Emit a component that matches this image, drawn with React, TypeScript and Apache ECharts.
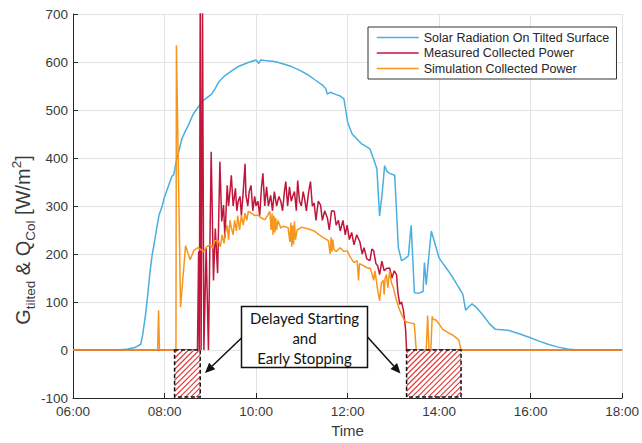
import React, { useEffect, useRef } from 'react';
import * as echarts from 'echarts';

// time in hours (decimal), value in W/m2
const solarRadiation: [number, number][] = [
  [6, 0], [7, 0], [7.2, 2], [7.35, 5], [7.48, 12], [7.52, 30], [7.58, 70], [7.62, 103], [7.68, 160],
  [7.73, 198], [7.78, 225], [7.82, 248], [7.88, 281], [7.95, 300], [7.99, 316], [8.08, 340], [8.16, 362],
  [8.2, 365], [8.25, 390], [8.31, 413], [8.38, 440], [8.45, 455], [8.53, 470], [8.62, 490], [8.75, 508],
  [8.85, 520], [9.03, 533], [9.11, 545], [9.18, 558], [9.3, 570], [9.46, 581], [9.6, 590], [9.83, 599],
  [10.0, 604], [10.06, 597], [10.1, 604], [10.2, 603], [10.41, 601], [10.6, 596], [10.76, 591],
  [10.95, 583], [11.12, 574], [11.3, 562], [11.45, 552], [11.52, 545], [11.56, 533], [11.62, 537],
  [11.75, 532], [11.84, 529], [11.92, 523], [11.96, 500], [12.0, 475], [12.1, 450], [12.3, 430],
  [12.49, 419], [12.58, 395], [12.64, 378], [12.7, 279], [12.76, 330], [12.81, 384], [12.86, 372],
  [12.92, 368], [13.03, 364], [13.07, 290], [13.11, 213], [13.18, 186], [13.25, 190], [13.33, 196],
  [13.37, 240], [13.39, 260], [13.42, 200], [13.46, 120], [13.55, 118], [13.65, 122], [13.68, 182],
  [13.72, 136], [13.76, 180], [13.83, 248], [13.9, 225], [14.0, 192], [14.1, 178], [14.2, 165],
  [14.3, 151], [14.4, 135], [14.52, 116], [14.58, 83], [14.65, 90], [14.72, 96], [14.8, 90],
  [14.95, 74], [15.1, 55], [15.23, 43], [15.51, 41], [15.75, 34], [15.95, 27], [16.2, 18], [16.38, 12],
  [16.6, 6], [16.81, 2], [17.03, 0], [18, 0],
];

const measuredPower: [number, number][] = [
  [6, 0], [8.72, 0], [8.745, 205], [8.76, 0], [8.78, 720], [8.8, 0], [8.83, 720], [8.86, 0], [8.91, 213],
  [8.96, 0], [9.02, 413], [9.07, 145], [9.11, 253], [9.16, 160], [9.21, 392], [9.25, 268], [9.29, 302],
  [9.32, 233], [9.37, 343], [9.4, 300], [9.43, 330], [9.46, 364], [9.5, 300],
  [9.55, 337], [9.58, 290], [9.61, 310], [9.65, 320], [9.68, 280], [9.72, 330], [9.76, 388], [9.78, 322],
  [9.82, 300], [9.85, 330], [9.89, 343], [9.93, 290], [9.97, 320], [10.0, 300], [10.04, 310],
  [10.08, 280], [10.12, 340], [10.15, 368], [10.19, 300], [10.23, 340], [10.27, 300], [10.32, 322],
  [10.36, 290], [10.4, 330], [10.45, 300], [10.5, 320], [10.54, 310], [10.58, 290], [10.62, 330],
  [10.65, 351], [10.69, 300], [10.73, 340], [10.77, 310], [10.8, 320], [10.84, 330], [10.88, 290],
  [10.91, 353], [10.95, 310], [10.99, 300], [11.03, 330], [11.06, 316], [11.1, 290], [11.15, 330],
  [11.19, 351], [11.23, 300], [11.27, 306], [11.31, 270], [11.36, 310], [11.41, 302], [11.45, 270],
  [11.5, 290], [11.56, 275], [11.6, 250], [11.65, 290], [11.71, 289], [11.75, 260], [11.8, 270],
  [11.84, 248], [11.9, 270], [11.95, 240], [11.99, 260], [12.04, 230], [12.09, 245], [12.14, 219],
  [12.2, 240], [12.27, 225], [12.32, 200], [12.36, 213], [12.42, 190], [12.49, 186], [12.53, 210],
  [12.57, 207], [12.62, 180], [12.66, 175], [12.7, 157], [12.75, 185], [12.8, 165], [12.85, 170],
  [12.92, 171], [12.97, 150], [13.02, 165], [13.07, 157], [13.1, 120], [13.14, 95], [13.18, 100],
  [13.22, 83], [13.24, 68], [13.27, 40], [13.29, 0], [18, 0],
];

const simulatedPower: [number, number][] = [
  [6, 0], [7.85, 0], [7.87, 83], [7.89, 0], [8.25, 0], [8.26, 635], [8.35, 89], [8.46, 217],
  [8.56, 188], [8.64, 207], [8.72, 213], [8.78, 210], [8.85, 205], [8.92, 215], [9.0, 220], [9.05, 212],
  [9.1, 228], [9.18, 227], [9.22, 215], [9.26, 240], [9.3, 222], [9.33, 244],
  [9.37, 260], [9.4, 230], [9.43, 270], [9.46, 255], [9.5, 240], [9.53, 270], [9.57, 248], [9.6, 280],
  [9.64, 250], [9.68, 281], [9.72, 260], [9.76, 285], [9.8, 270], [9.83, 289], [9.9, 285], [9.97, 280],
  [10.04, 281], [10.1, 276], [10.19, 271], [10.25, 280], [10.3, 289], [10.33, 250], [10.35, 285],
  [10.37, 240], [10.39, 280], [10.41, 245], [10.43, 275], [10.45, 250], [10.48, 270], [10.54, 254],
  [10.6, 258], [10.7, 255], [10.74, 225], [10.76, 265], [10.78, 215], [10.8, 260], [10.82, 220],
  [10.84, 268], [10.86, 230], [10.9, 250], [11.0, 256], [11.06, 254], [11.15, 252], [11.27, 248],
  [11.38, 240], [11.49, 233], [11.58, 228], [11.62, 200], [11.64, 235], [11.66, 205], [11.68, 230],
  [11.7, 210], [11.75, 205], [11.84, 213], [11.92, 205], [11.99, 207], [12.05, 195], [12.14, 182],
  [12.21, 186], [12.24, 145], [12.26, 180], [12.36, 175], [12.45, 170], [12.49, 171], [12.53, 160],
  [12.57, 145], [12.6, 165], [12.65, 130], [12.7, 103], [12.74, 140], [12.78, 145], [12.8, 115],
  [12.82, 150], [12.85, 157], [12.88, 130], [12.92, 165], [12.96, 140], [13.0, 130], [13.07, 103],
  [13.14, 83], [13.2, 70], [13.24, 62], [13.29, 58], [13.4, 56], [13.46, 54], [13.5, 0], [13.72, 0],
  [13.75, 72], [13.78, 0], [13.82, 0], [13.85, 70], [13.87, 64], [13.94, 62], [14.08, 43], [14.2, 36],
  [14.3, 31], [14.43, 21], [14.48, 0], [18, 0],
];

const seriesNames = [
  'Solar Radiation On Tilted Surface',
  'Measured Collected Power',
  'Simulation Collected Power',
];
const seriesColors = ['#4aaee2', '#c0163c', '#f7961e'];

// hatched "delayed start / early stop" regions (hours, W/m2)
const hatchStart = [8.22, 13.29];
const hatchEnd = [8.78, 14.48];
const hatchTop = 0;
const hatchBottom = -98;

const annotationLines = ['Delayed Starting', 'and', 'Early Stopping'];

function arrow(x1: number, y1: number, x2: number, y2: number) {
  const dx = x2 - x1;
  const dy = y2 - y1;
  const len = Math.sqrt(dx * dx + dy * dy);
  const ux = dx / len;
  const uy = dy / len;
  const hl = 10;
  const hw = 4.5;
  const bx = x2 - ux * hl;
  const by = y2 - uy * hl;
  return [
    { type: 'line', shape: { x1, y1, x2: bx, y2: by }, style: { stroke: '#111', lineWidth: 1.5 }, z: 100 },
    {
      type: 'polygon',
      shape: { points: [[x2, y2], [bx - uy * hw, by + ux * hw], [bx + uy * hw, by - ux * hw]] },
      style: { fill: '#111' },
      z: 100,
    },
  ];
}

export default function App() {
  const ref = useRef<HTMLDivElement>(null);
  useEffect(() => {
    if (!ref.current) return;
    const chart = echarts.init(ref.current, null, { renderer: 'svg' });
    const hatchData = hatchStart.map((s, i) => [s, hatchEnd[i], hatchTop, hatchBottom]);
    const axisColor = '#262626';
    const labelColor = '#3a3a3a';
    const font = 'Liberation Sans, Arial, sans-serif';
    const boxX = 241.5;
    const boxY = 306.5;
    const boxW = 126;
    const boxH = 61;
    chart.setOption({
      animation: false,
      backgroundColor: '#fff',
      grid: { left: 73, right: 14, top: 14, bottom: 41 },
      legend: {
        data: seriesNames,
        left: 368,
        top: 27,
        orient: 'vertical',
        backgroundColor: '#fff',
        borderColor: '#333',
        borderWidth: 1,
        padding: [4, 7, 4, 8],
        itemGap: 2.5,
        itemWidth: 42,
        itemHeight: 13,
        itemStyle: { opacity: 0 },
        lineStyle: { width: 1.5 },
        textStyle: { fontSize: 12.5, color: '#262626', fontFamily: font, padding: [0, 0, 0, 0] },
      },
      xAxis: {
        type: 'value',
        min: 6,
        max: 18,
        interval: 2,
        name: 'Time',
        nameLocation: 'middle',
        nameGap: 25,
        nameTextStyle: { fontSize: 15, color: labelColor, fontFamily: font },
        axisLine: { show: true, onZero: false, lineStyle: { color: axisColor, width: 1 } },
        axisTick: { show: true, inside: true, length: 5, lineStyle: { color: axisColor } },
        axisLabel: {
          fontSize: 13.5,
          color: labelColor,
          fontFamily: font,
          margin: 6,
          formatter: (v: number) => (v < 10 ? '0' : '') + v + ':00',
        },
        splitLine: { show: true, lineStyle: { color: '#e3e3e3', width: 1 } },
      },
      yAxis: {
        type: 'value',
        min: -100,
        max: 700,
        interval: 100,
        axisLine: { show: true, lineStyle: { color: axisColor, width: 1 } },
        axisTick: { show: true, inside: true, length: 5, lineStyle: { color: axisColor } },
        axisLabel: { fontSize: 13.5, color: labelColor, fontFamily: font, margin: 5 },
        splitLine: { show: true, lineStyle: { color: '#e3e3e3', width: 1 } },
      },
      graphic: [
        {
          type: 'text',
          x: 23,
          y: 240,
          rotation: Math.PI / 2,
          style: {
            text: '{m|G}{s|tilted}{m| & Q}{s|Col}{m| [W/m}{p|2}{m|]}',
            align: 'center',
            verticalAlign: 'middle',
            rich: {
              m: { fontSize: 20, fontFamily: font, fill: labelColor, lineHeight: 28, verticalAlign: 'middle' },
              s: { fontSize: 13.5, fontFamily: font, fill: labelColor, lineHeight: 13, verticalAlign: 'bottom' },
              p: { fontSize: 13.5, fontFamily: font, fill: labelColor, lineHeight: 13, verticalAlign: 'top' },
            },
          },
        },
        {
          type: 'rect',
          shape: { x: boxX, y: boxY, width: boxW, height: boxH },
          style: { fill: '#fff', stroke: '#111', lineWidth: 1.5 },
          z: 100,
        },
        {
          type: 'text',
          x: boxX + boxW / 2,
          y: boxY + boxH / 2 + 0.5,
          style: {
            text: annotationLines.join('\n'),
            align: 'center',
            verticalAlign: 'middle',
            fontSize: 15,
            lineHeight: 20,
            fontFamily: 'Lato, Open Sans, sans-serif',
            fill: '#111',
          },
          z: 101,
        },
        ...arrow(boxX, 338, 205, 373),
        ...arrow(boxX + boxW, 337, 400.5, 373.5),
      ],
      series: [
        {
          name: seriesNames[0],
          type: 'line',
          data: solarRadiation,
          symbol: 'none',
          color: seriesColors[0],
          lineStyle: { width: 1.5, color: seriesColors[0] },
          z: 3,
        },
        {
          name: seriesNames[1],
          type: 'line',
          data: measuredPower,
          symbol: 'none',
          color: seriesColors[1],
          lineStyle: { width: 1.5, color: seriesColors[1] },
          z: 4,
        },
        {
          name: seriesNames[2],
          type: 'line',
          data: simulatedPower,
          symbol: 'none',
          color: seriesColors[2],
          lineStyle: { width: 1.5, color: seriesColors[2] },
          z: 5,
        },
        {
          type: 'custom',
          silent: true,
          z: 6,
          data: hatchData,
          renderItem: (params: any, api: any) => {
            const p0 = api.coord([api.value(0), api.value(2)]);
            const p1 = api.coord([api.value(1), api.value(3)]);
            const xmin = Math.min(p0[0], p1[0]);
            const xmax = Math.max(p0[0], p1[0]);
            const ymin = Math.min(p0[1], p1[1]);
            const ymax = Math.max(p0[1], p1[1]);
            const children: any[] = [
              { type: 'rect', shape: { x: xmin, y: ymin, width: xmax - xmin, height: ymax - ymin }, style: { fill: '#fff' } },
            ];
            const step = 5.5;
            for (let k = xmin + ymin + step / 2; k < xmax + ymax; k += step) {
              const xa = Math.max(xmin, k - ymax);
              const xb = Math.min(xmax, k - ymin);
              if (xb <= xa) continue;
              children.push({
                type: 'line',
                shape: { x1: xa, y1: k - xa, x2: xb, y2: k - xb },
                style: { stroke: '#e23a3a', lineWidth: 1.1 },
              });
            }
            children.push({
              type: 'rect',
              shape: { x: xmin, y: ymin, width: xmax - xmin, height: ymax - ymin },
              style: { fill: 'none', stroke: '#111', lineWidth: 1.5, lineDash: [4, 2.5] },
            });
            return { type: 'group', children };
          },
        },
      ],
    });
    return () => chart.dispose();
  }, []);
  return <div ref={ref} style={{ position: 'fixed', left: 0, top: 0, width: 642, height: 443 }} />;
}
